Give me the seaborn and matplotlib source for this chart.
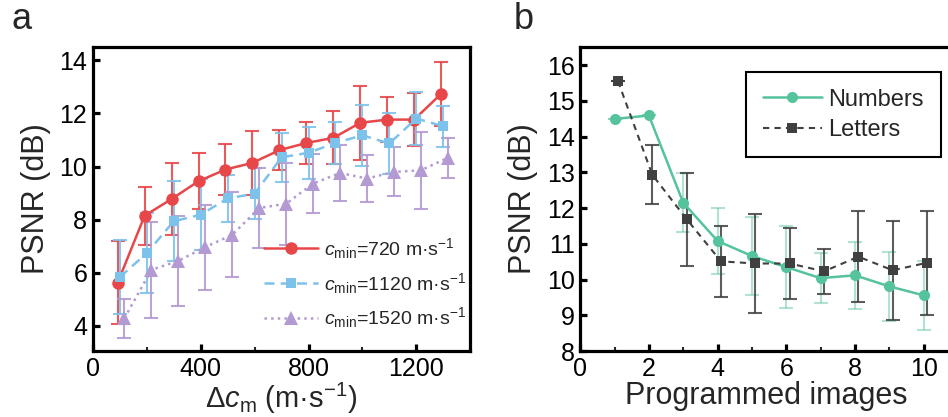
import numpy as np
import pandas as pd
import matplotlib
matplotlib.use("Agg")
import matplotlib.pyplot as plt
import seaborn as sns
from matplotlib.ticker import MultipleLocator

# panel a: PSNR vs delta c_m for three c_min values
dc = [100, 200, 300, 400, 500, 600, 700, 800, 900, 1000, 1100, 1200, 1300]
psnr_720 = [5.63, 8.15, 8.78, 9.45, 9.89, 10.14, 10.62, 10.89, 11.08, 11.65, 11.77, 11.77, 12.74]
err_720 = [1.55, 1.1, 1.37, 1.05, 0.95, 1.2, 0.75, 0.8, 1.0, 1.4, 0.85, 1.0, 1.2]
psnr_1120 = [5.84, 6.74, 7.94, 8.19, 8.80, 8.98, 10.35, 10.52, 10.89, 11.18, 10.87, 11.81, 11.52]
err_1120 = [1.4, 1.5, 1.5, 1.35, 0.9, 0.95, 0.92, 0.98, 0.8, 1.15, 1.15, 1.0, 0.77]
psnr_1520 = [4.29, 6.11, 6.45, 6.97, 7.43, 8.44, 8.60, 9.36, 9.76, 9.55, 9.80, 9.86, 10.33]
err_1520 = [0.73, 1.8, 1.7, 1.6, 1.6, 1.5, 1.55, 1.1, 1.05, 0.9, 0.92, 1.45, 0.75]

# panel b: PSNR vs number of programmed images
n_img = [1, 2, 3, 4, 5, 6, 7, 8, 9, 10]
psnr_num = [14.49, 14.59, 12.15, 11.08, 10.66, 10.35, 10.04, 10.12, 9.81, 9.56]
err_num = [0, 0, 0.83, 0.92, 1.1, 1.15, 0.7, 0.93, 0.96, 0.96]
psnr_let = [15.55, 12.93, 11.69, 10.51, 10.45, 10.45, 10.23, 10.64, 10.26, 10.47]
err_let = [0, 0.82, 1.3, 1.0, 1.38, 1.0, 0.63, 1.28, 1.38, 1.46]

sns.set_theme(style="ticks")
plt.rcParams['font.family'] = ['Liberation Sans', 'DejaVu Sans']
plt.rcParams['mathtext.fontset'] = 'custom'
plt.rcParams['mathtext.rm'] = 'Liberation Sans'
plt.rcParams['mathtext.it'] = 'Liberation Sans:italic'

RED = '#e8474a'
BLUE = '#7dc2ea'
PURPLE = '#b39ad2'
GREEN = '#55c39c'
GRAY = '#404040'

fig = plt.figure(figsize=(9.48, 4.17), dpi=100)
ax1 = fig.add_axes([0.098, 0.158, 0.398, 0.729])
ax2 = fig.add_axes([0.612, 0.158, 0.392, 0.729])


def style_axes(ax):
    for s in ax.spines.values():
        s.set_linewidth(2.3)
        s.set_color('black')
    ax.tick_params(which='major', direction='in', length=5, width=2.3,
                   labelsize=18, pad=4, colors='black')
    ax.tick_params(which='minor', direction='in', length=3, width=1.5)
    ax.tick_params(axis='y', which='minor', length=0)


# ---- panel a ----
series_a = [
    (np.array(dc) - 8, psnr_720, err_720, RED, 'o', '-', 9,
     r'$c_{\mathrm{min}}$=720 m·s$^{-1}$'),
    (np.array(dc), psnr_1120, err_1120, BLUE, 's', (0, (4, 2.5)), 7.5,
     r'$c_{\mathrm{min}}$=1120 m·s$^{-1}$'),
    (np.array(dc) + 17, psnr_1520, err_1520, PURPLE, '^', ':', 10,
     r'$c_{\mathrm{min}}$=1520 m·s$^{-1}$'),
]
for x, y, e, c, m, ls, ms, lab in series_a:
    ax1.errorbar(x, y, yerr=e, fmt='none', ecolor=c, elinewidth=1.5,
                 capsize=5, capthick=1.5, alpha=0.9, zorder=2)
    sns.lineplot(x=x, y=y, ax=ax1, color=c, marker=m, markersize=ms,
                 markeredgewidth=0, linestyle=ls, linewidth=1.8, label=lab,
                 zorder=3)

ax1.set_xlim(0, 1400)
ax1.set_ylim(3.05, 14.5)
ax1.xaxis.set_major_locator(MultipleLocator(400))
ax1.xaxis.set_minor_locator(MultipleLocator(200))
ax1.yaxis.set_major_locator(MultipleLocator(2))
style_axes(ax1)
ax1.set_xlabel(r'$\Delta c_{\mathrm{m}}$ (m·s$^{-1}$)', fontsize=21, labelpad=0)
ax1.set_ylabel('PSNR (dB)', fontsize=22, labelpad=6)
ax1.legend(loc='lower right', bbox_to_anchor=(1.02, 0.03), frameon=False,
           fontsize=14, handlelength=2.8, handletextpad=0.3, labelspacing=0.5,
           borderaxespad=0.2)

# ---- panel b ----
ax2.errorbar(n_img, psnr_num, yerr=err_num, fmt='none', ecolor=GREEN,
             elinewidth=1.5, capsize=5, capthick=1.5, alpha=0.45, zorder=2)
ax2.errorbar(np.array(n_img) + 0.1, psnr_let, yerr=err_let, fmt='none',
             ecolor=GRAY, elinewidth=1.5, capsize=5, capthick=1.5, alpha=0.85,
             zorder=2)
sns.lineplot(x=n_img, y=psnr_num, ax=ax2, color=GREEN, marker='o',
             markersize=8, markeredgewidth=0, linewidth=1.8, label='Numbers',
             zorder=3)
sns.lineplot(x=np.array(n_img) + 0.1, y=psnr_let, ax=ax2, color=GRAY,
             marker='s', markersize=7, markeredgewidth=0,
             linestyle=(0, (3, 2.5)), linewidth=1.5, label='Letters', zorder=3)

ax2.set_xlim(0, 10.82)
ax2.set_ylim(8, 16.5)
ax2.xaxis.set_major_locator(MultipleLocator(2))
ax2.xaxis.set_minor_locator(MultipleLocator(1))
ax2.yaxis.set_major_locator(MultipleLocator(1))
style_axes(ax2)
ax2.set_xlabel('Programmed images', fontsize=22, labelpad=0)
ax2.set_ylabel('PSNR (dB)', fontsize=22, labelpad=6)
leg = ax2.legend(loc='upper right', bbox_to_anchor=(0.97, 0.918), fontsize=17,
                 handlelength=2.5, handletextpad=0.3, labelspacing=0.35,
                 borderaxespad=0, fancybox=False, framealpha=1,
                 borderpad=0.7)
leg.get_frame().set_edgecolor('black')
leg.get_frame().set_linewidth(1.5)

fig.text(0.012, 0.93, 'a', fontsize=26)
fig.text(0.542, 0.93, 'b', fontsize=26)

fig.savefig('out.png', dpi=100)
